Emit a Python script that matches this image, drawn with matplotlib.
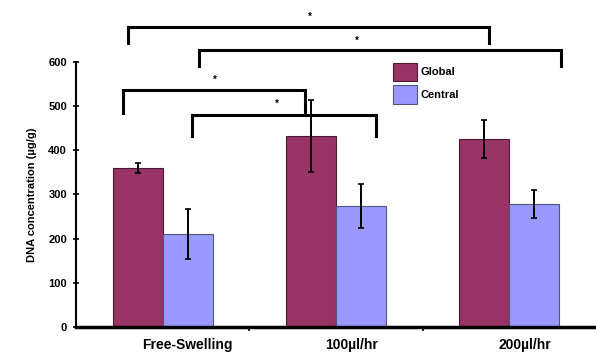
import numpy as np
import matplotlib.pyplot as plt
from matplotlib.transforms import ScaledTranslation

plt.rcParams['font.family'] = ['Liberation Sans', 'DejaVu Sans']

# data
categories = ['Free-Swelling', '100\u00b5l/hr', '200\u00b5l/hr']
global_vals = [360, 432, 425]
global_err = [11, 82, 43]
central_vals = [210, 274, 278]
central_err = [57, 50, 32]

# significance brackets: (x left, x right, y top, y bottom of legs)
brackets = [
    (-0.20, 1.88, 679, 643),
    (0.21, 2.30, 627, 591),
    (-0.23, 0.82, 537, 485),
    (0.17, 1.23, 480, 432),
]
star_pos = [(0.85, 703), (1.12, 648), (0.30, 560), (0.66, 505)]

c_global = '#993366'
c_central = '#9999ff'
w = 0.289

fig = plt.figure(figsize=(5.96, 3.56), dpi=100)
ax = fig.add_axes([0.1275, 0.0815, 0.8725, 0.7444])

x = np.arange(len(categories))
ax.bar(x - w / 2, global_vals, w, color=c_global, edgecolor='#4d1a33', linewidth=0.8, label='Global')
ax.bar(x + w / 2, central_vals, w, color=c_central, edgecolor='#55557a', linewidth=0.8, label='Central')
ax.errorbar(x - w / 2, global_vals, yerr=global_err, fmt='none', ecolor='black', elinewidth=1.4, capsize=2.5, capthick=1.2)
ax.errorbar(x + w / 2, central_vals, yerr=central_err, fmt='none', ecolor='black', elinewidth=1.4, capsize=2.5, capthick=1.2)

for (xl, xr, yt, yb) in brackets:
    ax.plot([xl, xl, xr, xr], [yb, yt, yt, yb], color='black', lw=2.2, clip_on=False, solid_joinstyle='miter')
for (sx, sy) in star_pos:
    ax.text(sx, sy, '*', ha='center', va='center', fontsize=7, fontweight='bold')

ax.set_xlim(-0.5, 2.5)
ax.set_ylim(0, 600)
ax.set_yticks(range(0, 700, 100))
ax.set_xticks([0.5, 1.5])
ax.set_xticklabels([])
ax.tick_params(axis='x', length=3, width=1.2)
ax.tick_params(axis='y', direction='inout', length=5, width=1.2, labelsize=8, pad=4)
for lab in ax.get_yticklabels():
    lab.set_fontweight('bold')

label_offsets = [25, 16, 16]
for i, cat in enumerate(categories):
    off = ScaledTranslation(label_offsets[i] / 100, 0, fig.dpi_scale_trans)
    ax.text(i, -40, cat, ha='center', va='center', fontsize=10, fontweight='bold',
            transform=ax.transData + off)

ax.spines['top'].set_visible(False)
ax.spines['right'].set_visible(False)
ax.spines['left'].set_linewidth(1.5)
ax.spines['bottom'].set_linewidth(2.5)

ax.set_ylabel('DNA concentration (\u00b5g/g)', fontsize=8, fontweight='bold', labelpad=8)

ax.legend(loc='upper left', bbox_to_anchor=(0.59, 1.035), frameon=False,
          handlelength=2.2, handleheight=2.2, labelspacing=0.35, handletextpad=0.3,
          prop={'weight': 'bold', 'size': 8})

fig.savefig('out.png', dpi=100)
